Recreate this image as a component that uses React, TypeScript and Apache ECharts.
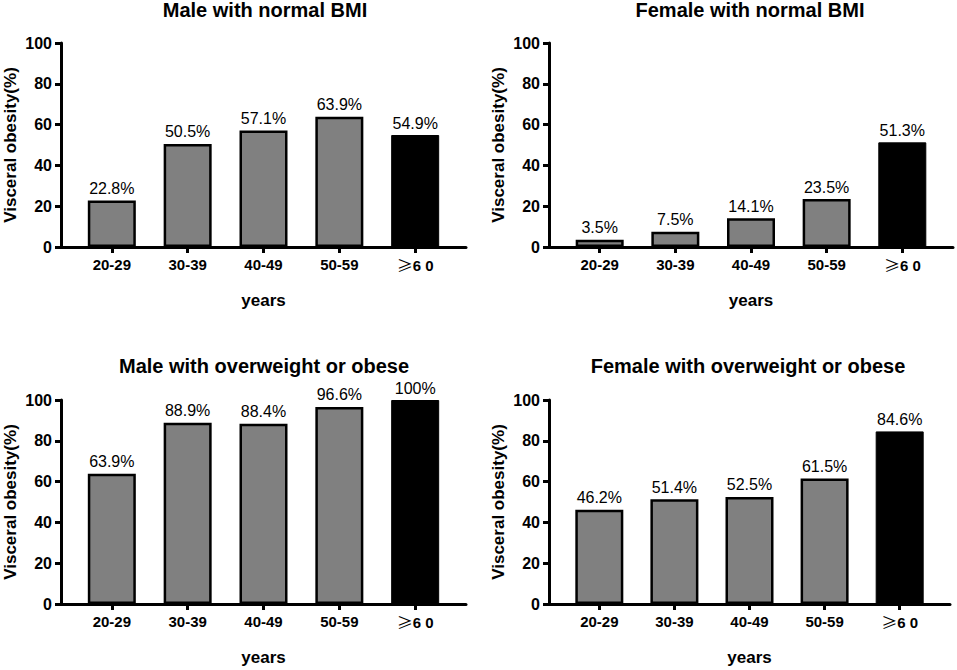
import React, { useEffect, useRef } from "react";
import * as echarts from "echarts";

const categories = ["20-29", "30-39", "40-49", "50-59", "≥6 0"];
const titles = [
  "Male with normal BMI",
  "Female with normal BMI",
  "Male with overweight or obese",
  "Female with overweight or obese",
];
const maleNormal = [22.8, 50.5, 57.1, 63.9, 54.9];
const femaleNormal = [3.5, 7.5, 14.1, 23.5, 51.3];
const maleOver = [63.9, 88.9, 88.4, 96.6, 100];
const femaleOver = [46.2, 51.4, 52.5, 61.5, 84.6];
const yTicks = [0, 20, 40, 60, 80, 100];
const yName = "Visceral obesity(%)";
const xName = "years";

const FONT = "'Liberation Sans', Arial, Helvetica, sans-serif";

export default function App() {
  const ref = useRef<HTMLDivElement>(null);
  useEffect(() => {
    if (!ref.current) return;
    const chart = echarts.init(ref.current, undefined, { renderer: "svg" });
    const grids = [
      { left: 61, top: 43, width: 405, height: 204 },
      { left: 549, top: 43, width: 404, height: 204 },
      { left: 61, top: 400, width: 405, height: 204 },
      { left: 549, top: 400, width: 401, height: 204 },
    ];
    const titlePos = [
      { left: 265, top: 0 },
      { left: 750, top: 0 },
      { left: 264, top: 356 },
      { left: 748, top: 356 },
    ];
    const allData = [maleNormal, femaleNormal, maleOver, femaleOver];
    const idx = categories.map((_, i) => i);
    const lineStyle = { color: "#000", width: 3 };
    const option: any = {
      animation: false,
      backgroundColor: "#fff",
      textStyle: { fontFamily: FONT },
      title: titles.map((t, i) => ({
        text: t,
        left: titlePos[i].left,
        top: titlePos[i].top,
        textAlign: "center",
        padding: 0,
        textStyle: { fontFamily: FONT, fontWeight: "bold", fontSize: 20, color: "#000" },
      })),
      grid: grids.map((g) => ({ ...g, containLabel: false })),
      xAxis: grids.map((_, i) => ({
        type: "value",
        gridIndex: i,
        min: -0.67,
        max: 4.67,
        splitLine: { show: false },
        axisLine: { show: true, onZero: false, lineStyle },
        axisTick: {
          show: true,
          customValues: idx,
          length: 6,
          lineStyle,
        },
        axisLabel: {
          show: true,
          customValues: idx,
          margin: 10,
          fontFamily: FONT,
          fontWeight: "bold",
          fontSize: 15,
          color: "#000",
          formatter: (v: number) => {
            const c = categories[Math.round(v)];
            if (c && c.startsWith("≥")) return "{g|≥}" + c.slice(1);
            return c ?? "";
          },
          rich: {
            g: {
              fontFamily: "'Noto Sans CJK SC'",
              fontWeight: "normal",
              fontSize: 16,
              color: "#000",
            },
          },
        },
        name: xName,
        nameLocation: "middle",
        nameGap: 45,
        nameTextStyle: { fontFamily: FONT, fontWeight: "bold", fontSize: 17, color: "#000" },
      })),
      yAxis: grids.map((_, i) => ({
        type: "value",
        gridIndex: i,
        min: yTicks[0],
        max: yTicks[yTicks.length - 1],
        interval: 20,
        splitLine: { show: false },
        axisLine: { show: true, onZero: false, lineStyle },
        axisTick: { show: true, length: 6, lineStyle },
        axisLabel: {
          margin: 9,
          fontFamily: FONT,
          fontWeight: "bold",
          fontSize: 16,
          color: "#000",
        },
        name: yName,
        nameLocation: "middle",
        nameGap: 42,
        nameTextStyle: { fontFamily: FONT, fontWeight: "bold", fontSize: 17, color: "#000" },
      })),
      series: allData.map((d, i) => ({
        type: "bar",
        xAxisIndex: i,
        yAxisIndex: i,
        barWidth: 48,
        data: d.map((v, j) =>
          j === d.length - 1
            ? {
                value: [j, v],
                itemStyle: { color: "#000", borderColor: "#000", borderWidth: 1 },
              }
            : {
                value: [j, v],
                itemStyle: { color: "#808080", borderColor: "#000", borderWidth: 2.5 },
              }
        ),
        label: {
          show: true,
          position: "top",
          distance: 4,
          fontFamily: FONT,
          fontSize: 16,
          color: "#000",
          formatter: (p: any) => p.value[1] + "%",
        },
      })),
    };
    chart.setOption(option);
    return () => chart.dispose();
  }, []);
  return (
    <div
      ref={ref}
      style={{ position: "absolute", left: 0, top: 0, width: 957, height: 670, background: "#fff" }}
    />
  );
}
